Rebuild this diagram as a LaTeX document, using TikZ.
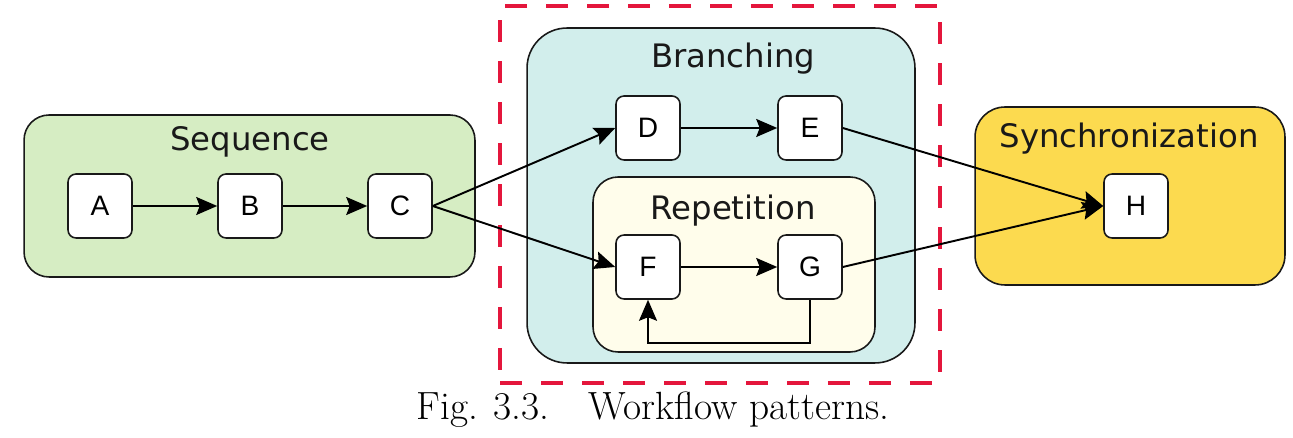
\documentclass[tikz,border=0pt]{standalone}
\usepackage{fontspec}
\newfontfamily\titlefont{DejaVu Sans}
\newfontfamily\boxfont{Liberation Sans}
\usetikzlibrary{arrows.meta}
\definecolor{seqgreen}{HTML}{D6EDC3}
\definecolor{branchteal}{HTML}{D2EEEC}
\definecolor{repcream}{HTML}{FFFDEB}
\definecolor{syncyellow}{HTML}{FCDA4F}
\definecolor{framered}{HTML}{E4163C}
\begin{document}
\begin{tikzpicture}[x=0.02cm,y=-0.02cm,
	task/.style={draw=black!90,line width=0.9pt,fill=white,rounded corners=0.16cm,
		minimum width=1.28cm,minimum height=1.28cm,inner sep=0pt,
		font=\boxfont\fontsize{16}{18}\selectfont},
	group/.style={draw=black!90,line width=0.9pt,inner sep=0pt},
	grouplabel/.style={font=\titlefont\fontsize{18.4}{22}\selectfont,text=black!90},
	flow/.style={-{Stealth[length=0.42cm,width=0.36cm,inset=0.07cm]},line width=1.1pt}]
\useasboundingbox (0,0) rectangle (1293,438);

% pattern groups
	\node[group,fill=seqgreen,rounded corners=0.5cm,minimum width=9.02cm,minimum height=3.24cm] (seq) at (249.5,196) {};
	\node[group,fill=branchteal,rounded corners=0.8cm,minimum width=7.76cm,minimum height=6.7cm] (branch) at (721,195.5) {};
	\node[group,fill=repcream,rounded corners=0.5cm,minimum width=5.64cm,minimum height=3.5cm] (rep) at (734,264.5) {};
	\node[group,fill=syncyellow,rounded corners=0.6cm,minimum width=6.2cm,minimum height=3.56cm] (sync) at (1130,196) {};
	\node[draw=framered,line width=2.6pt,dash pattern=on 0.44cm off 0.38cm,minimum width=8.8cm,minimum height=7.54cm,inner sep=0pt] (frame) at (720,194.5) {};

	\node[grouplabel] (seqlbl) at (250,142) {Sequence};
	\node[grouplabel] (branchlbl) at (733,59) {Branching};
	\node[grouplabel] (replbl) at (733,211) {Repetition};
	\node[grouplabel] (synclbl) at (1129,139) {Synchronization};

% tasks
	\node[task] (A) at (100,206) {A};
	\node[task] (B) at (250,206) {B};
	\node[task] (C) at (400,206) {C};
	\node[task] (D) at (648,128) {D};
	\node[task] (E) at (810,128) {E};
	\node[task] (F) at (648,267) {F};
	\node[task] (G) at (810,267) {G};
	\node[task] (H) at (1136,206) {H};

	%Links
	\draw[flow] (A) -- (B);
	\draw[flow] (B) -- (C);
	\draw[flow] (C.east) -- (D.west);
	\draw[flow] (C.east) -- (F.west);
	\draw[flow] (D) -- (E);
	\draw[flow] (F) -- (G);
	\draw[flow] (G.south) -- ++(0,43) -| (F.south);
	\draw[flow] (E.east) -- (H.west);
	\draw[flow] (G.east) -- (H.west);

	% caption
	\node[font=\fontsize{22.4}{26}\selectfont] (caption) at (653,410) {Fig. 3.3.\quad Workflow patterns.};
\end{tikzpicture}
\end{document}
